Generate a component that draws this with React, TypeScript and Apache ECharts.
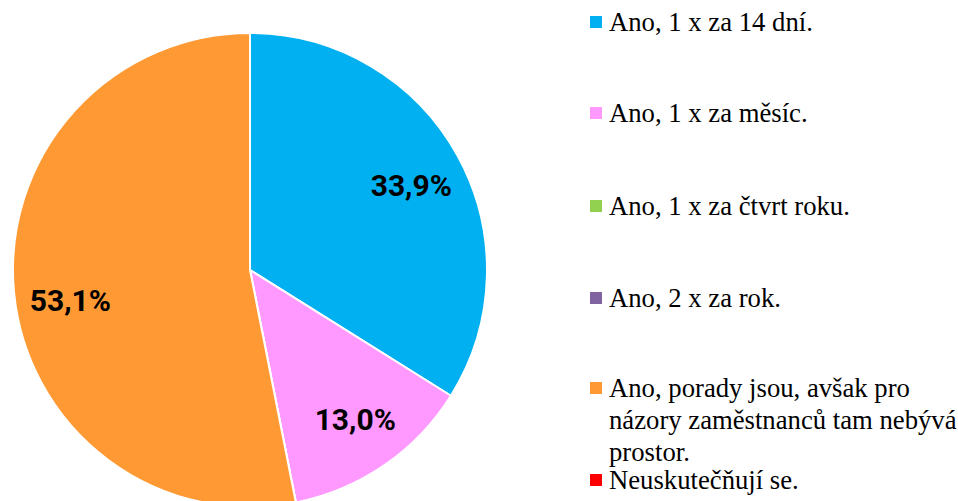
import React, { useEffect, useRef } from "react";
import * as echarts from "echarts";

const categories = [
  "Ano, 1 x za 14 dní.",
  "Ano, 1 x za měsíc.",
  "Ano, 1 x za čtvrt roku.",
  "Ano, 2 x za rok.",
  "Ano, porady jsou, avšak pro\nnázory zaměstnanců tam nebývá\nprostor.",
  "Neuskutečňují se.",
];
const values = [33.9, 13.0, 0, 0, 53.1, 0];
const colors = ["#00B0F0", "#FF99FF", "#92D050", "#8064A2", "#FF9933", "#FF0000"];
const legendY = [22, 113, 206, 298, 388, 480];
const labelOffsets = [[-1, 5], [0, -3], [0, 0], [0, 0], [5, 12], [0, 0]];

const fmt = (v: number) => v.toFixed(1).replace(".", ",") + "%";

export default function App() {
  const ref = useRef<HTMLDivElement>(null);
  useEffect(() => {
    document.body.style.margin = "0";
    const chart = echarts.init(ref.current!, null, { renderer: "svg" });
    const cx = 250;
    const cy = 270;
    const r = 237;
    const pieData = categories.map((name, i) => ({
      name,
      value: values[i],
      itemStyle: { color: colors[i] },
    }));
    const labelData = categories.map((name, i) => ({
      name,
      value: values[i],
      label: { show: values[i] > 0, offset: labelOffsets[i] },
    }));
    const graphic: any[] = [];
    categories.forEach((name, i) => {
      graphic.push({
        type: "rect",
        shape: { x: 590, y: legendY[i] - 6, width: 12, height: 12 },
        style: { fill: colors[i] },
      });
      graphic.push({
        type: "text",
        x: 609,
        y: legendY[i] - 16,
        style: {
          text: name,
          fill: "#000",
          font: "26.7px 'Liberation Serif', 'Times New Roman', serif",
          lineHeight: 32,
          verticalAlign: "top",
          align: "left",
        },
      });
    });
    chart.setOption({
      animation: false,
      backgroundColor: "#fff",
      graphic,
      series: [
        {
          type: "pie",
          center: [cx, cy],
          radius: [0, r],
          startAngle: 90,
          clockwise: true,
          data: pieData,
          label: { show: false },
          labelLine: { show: false },
          itemStyle: { borderColor: "#fff", borderWidth: 2 },
          emphasis: { disabled: true },
          silent: true,
        },
        {
          type: "pie",
          center: [cx, cy],
          radius: [128, r],
          startAngle: 90,
          clockwise: true,
          data: labelData,
          itemStyle: { color: "rgba(0,0,0,0)" },
          label: {
            show: true,
            position: "inside",
            formatter: (p: any) => fmt(p.value),
            color: "#000",
            fontFamily: "Roboto",
            fontWeight: "bold",
            fontSize: 30,
          },
          labelLine: { show: false },
          emphasis: { disabled: true },
          silent: true,
        },
      ],
    });
    return () => chart.dispose();
  }, []);
  return <div ref={ref} style={{ width: 958, height: 501 }} />;
}
